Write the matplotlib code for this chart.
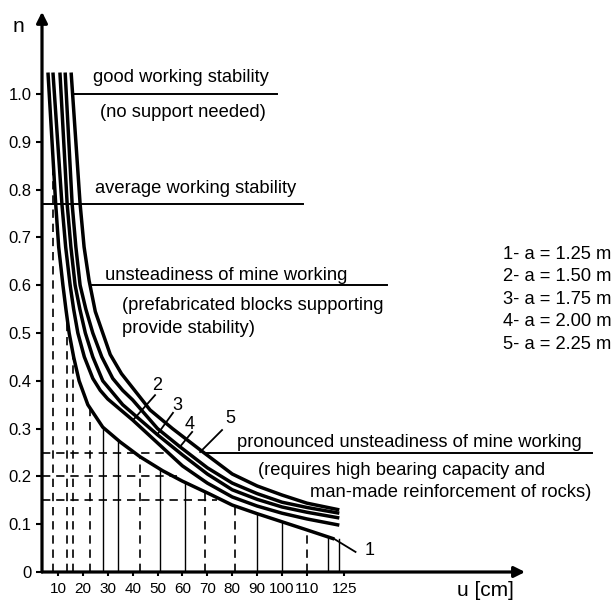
import numpy as np
import matplotlib
matplotlib.use("Agg")
import matplotlib.pyplot as plt

plt.rcParams['font.family'] = ['Liberation Sans', 'DejaVu Sans']

# stability factor n against displacement u [cm], one curve per span a
u_1 = [6.0, 9.1, 10.3, 12.0, 13.2, 14.5, 16.3, 18.5, 22.0, 28.0, 35.0, 43.0, 52.0, 60.0, 71.0, 80.0, 90.0, 100.0, 110.0, 121.0]
n_1 = [1.045, 0.77, 0.68, 0.60, 0.55, 0.50, 0.45, 0.40, 0.35, 0.303, 0.272, 0.241, 0.212, 0.19, 0.163, 0.140, 0.122, 0.105, 0.088, 0.069]

u_2 = [8.0, 11.6, 13.1, 14.9, 16.3, 18.0, 20.6, 24.0, 27.0, 30.0, 40.0, 50.0, 60.0, 70.0, 80.0, 90.0, 100.0, 110.0, 123.0]
n_2 = [1.045, 0.77, 0.68, 0.60, 0.55, 0.50, 0.45, 0.405, 0.38, 0.362, 0.318, 0.27, 0.222, 0.186, 0.157, 0.138, 0.123, 0.111, 0.098]

u_3 = [10.8, 13.7, 15.2, 16.9, 18.8, 21.0, 24.0, 28.0, 36.0, 50.0, 60.0, 70.0, 80.0, 90.0, 100.0, 110.0, 123.0]
n_3 = [1.045, 0.77, 0.68, 0.60, 0.55, 0.50, 0.45, 0.40, 0.35, 0.287, 0.245, 0.205, 0.172, 0.152, 0.136, 0.125, 0.113]

u_4 = [12.9, 15.7, 17.2, 18.9, 21.2, 24.0, 27.6, 32.0, 36.0, 40.0, 50.0, 59.0, 70.0, 80.0, 90.0, 100.0, 110.0, 123.0]
n_4 = [1.045, 0.77, 0.68, 0.60, 0.55, 0.50, 0.45, 0.405, 0.38, 0.36, 0.30, 0.262, 0.218, 0.186, 0.164, 0.146, 0.135, 0.123]

u_5 = [15.3, 18.9, 20.5, 22.5, 25.0, 28.0, 31.0, 35.5, 47.0, 56.0, 63.0, 68.0, 80.0, 90.0, 100.0, 110.0, 123.0]
n_5 = [1.045, 0.77, 0.68, 0.61, 0.545, 0.50, 0.455, 0.415, 0.339, 0.30, 0.272, 0.252, 0.205, 0.180, 0.161, 0.144, 0.130]

spans = ["1.25", "1.50", "1.75", "2.00", "2.25"]

# stability zone boundaries
zone_n = [1.0, 0.77, 0.6, 0.25]
zone_u_from = [15.7, 3.6, 22.9, 69.0]
zone_u_to = [98.0, 108.4, 142.0, 224.5]

# reading lines
dashed_u = [8, 13.5, 16, 23, 43, 69, 81, 110]
solid_u = [28, 34, 51, 61, 90, 100, 118.5, 123]
guide_n = [0.25, 0.20, 0.15]
guide_u_to = [55, 58, 74]

x_ticks = [10, 20, 30, 40, 50, 60, 70, 80, 90, 100, 110, 125]
y_ticks = [0, 0.1, 0.2, 0.3, 0.4, 0.5, 0.6, 0.7, 0.8, 0.9, 1.0]
y_labels = ["0", "0.1", "0.2", "0.3", "0.4", "0.5", "0.6", "0.7", "0.8", "0.9", "1.0"]

fig = plt.figure(figsize=(6.14, 6.07), dpi=100)
ax = fig.add_axes([42 / 614, 35 / 607, 572 / 614, 572 / 607])
ax.set_xlim(3.6, 233.3)
ax.set_ylim(0, 1.1967)
for s in ax.spines.values():
    s.set_visible(False)

dash = (0, (5, 3.5))
for u in dashed_u:
    ax.plot([u, u], [0, np.interp(u, u_1, n_1)], color='k', lw=1.2, ls=dash)
for u in solid_u:
    ax.plot([u, u], [0, np.interp(u, u_1, n_1)], color='k', lw=1.0)
for n, u_to in zip(guide_n, guide_u_to):
    ax.plot([3.6, u_to], [n, n], color='k', lw=1.2, ls=dash)

for n, a, b in zip(zone_n, zone_u_from, zone_u_to):
    ax.plot([a, b], [n, n], color='k', lw=1.4, clip_on=False)

curves = [(u_1, n_1), (u_2, n_2), (u_3, n_3), (u_4, n_4), (u_5, n_5)]
for u, n in curves:
    ax.plot(u, n, color='k', lw=2.5, solid_capstyle='butt', solid_joinstyle='round')

# curve numbers with leader lines
ax.plot([u_1[-1], 129.5], [n_1[-1], 0.042], color='k', lw=1.3)
ax.text(135.3, 0.046, "1", fontsize=13, ha='center', va='center')
labels = [("2", 49.8, 0.391, 49.0, 0.370, 40.2, 0.318),
          ("3", 57.8, 0.349, 56.2, 0.333, 49.8, 0.287),
          ("4", 63.0, 0.308, 63.9, 0.293, 59.0, 0.262),
          ("5", 79.1, 0.322, 75.9, 0.297, 67.1, 0.251)]
for txt, tx, ty, x0, y0, x1, y1 in labels:
    ax.text(tx, ty, txt, fontsize=13, ha='center', va='center')
    ax.plot([x0, x1], [y0, y1], color='k', lw=1.3)

fs = 13.2
ax.text(24.1, 1.025, "good working stability", fontsize=fs, va='baseline')
ax.text(26.9, 0.952, "(no support needed)", fontsize=fs, va='baseline')
ax.text(24.9, 0.793, "average working stability", fontsize=fs, va='baseline')
ax.text(28.9, 0.611, "unsteadiness of mine working", fontsize=fs, va='baseline')
ax.text(35.7, 0.548, "(prefabricated blocks supporting", fontsize=fs, va='baseline')
ax.text(35.7, 0.500, "provide stability)", fontsize=fs, va='baseline')
ax.text(81.9, 0.262, "pronounced unsteadiness of mine working", fontsize=fs, va='baseline')
ax.text(90.4, 0.203, "(requires high bearing capacity and", fontsize=fs, va='baseline')
ax.text(111.2, 0.157, "man-made reinforcement of rocks)", fontsize=fs, va='baseline')

for i, s in enumerate(spans):
    ax.text(188.8, 0.655 - 0.047 * i, f"{i + 1}- a = {s} m", fontsize=fs, va='baseline')

# axes drawn as arrows
arrow = dict(arrowstyle='-|>', color='k', lw=2.3, mutation_scale=16, shrinkA=0, shrinkB=0)
ax.annotate('', xy=(197.6, 0), xytext=(3.6, 0), arrowprops=arrow, annotation_clip=False)
ax.annotate('', xy=(3.6, 1.172), xytext=(3.6, 0), arrowprops=arrow, annotation_clip=False)

ax.set_xticks(x_ticks)
ax.set_xticklabels([str(t) for t in x_ticks], fontsize=11)
ax.set_yticks(y_ticks)
ax.set_yticklabels(y_labels, fontsize=12)
ax.tick_params(axis='y', direction='out', length=4, width=1.5, pad=3.5)
ax.tick_params(axis='x', direction='out', length=3, width=1.5, pad=4.5)

fig.text(18 / 614, 1 - 27 / 607, "n", fontsize=15, ha='center', va='center')
fig.text(485 / 614, 1 - 590 / 607, "u [cm]", fontsize=15, ha='center', va='center')

fig.savefig('out.png', dpi=100)
